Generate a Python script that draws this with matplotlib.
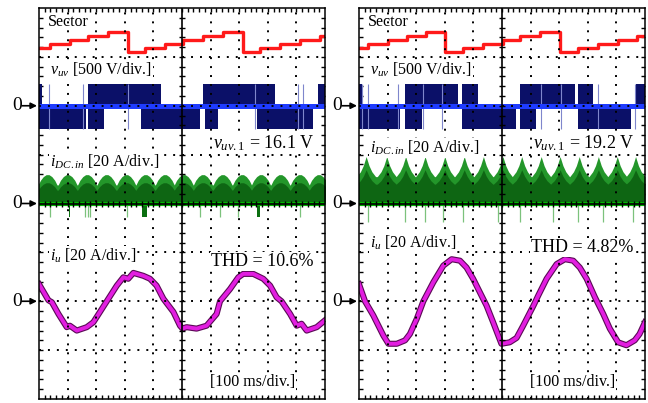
import matplotlib
matplotlib.use("Agg")
import matplotlib.pyplot as plt
import numpy as np

plt.rcParams["font.family"] = ["Liberation Serif", "DejaVu Serif"]
plt.rcParams["mathtext.fontset"] = "custom"
plt.rcParams["mathtext.rm"] = "Liberation Serif"
plt.rcParams["mathtext.it"] = "Liberation Serif:italic"

# ---- data read off the scope captures (time in ms, 100 ms/div) ----
# sector number (initial value, then value after each switch)
sector_switch_L = [38, 108, 172, 242, 310, 371, 441, 502, 575, 645, 712, 773, 843, 913, 983]
sector_L = [2, 3, 4, 5, 6, 1, 2, 3, 4, 5, 6, 1, 2, 3, 4, 5]
sector_switch_R = [33, 103, 167, 234, 301, 365, 435, 505, 563, 633, 703, 767, 837, 907, 971]
sector_R = [2, 3, 4, 5, 6, 1, 2, 3, 4, 5, 6, 1, 2, 3, 4, 5]

# v_uv PWM blocks (start ms, end ms), level in V
vuv_high, vuv_low = 225, -235
vuv_up_L = [(0, 10), (171, 427), (573, 825), (976, 1000)]
vuv_dn_L = [(0, 164), (171, 227), (357, 563), (580, 626), (762, 958)]
vuv_up_R = [(0, 10), (161, 346), (360, 416), (563, 755), (766, 818), (969, 1000)]
vuv_dn_R = [(0, 143), (161, 220), (360, 549), (563, 619), (766, 951)]
vuv_spike_L = [35, 154, 311, 755, 906, 923]
vuv_spike_R = [10, 31, 136, 224, 290, 636, 706, 836, 965]

# i_DC.in ripple humps: peak times (ms) and one hump profile (ms offset, A)
idc_peak_L = [30, 100, 168, 236, 305, 372, 440, 506, 573, 642, 710, 776, 844, 912, 978]
idc_dt_L = [-33, -25, -15, -5, 5, 15, 25, 33]
idc_amp_L = [7.6, 9.5, 11.0, 11.8, 11.8, 11.0, 9.5, 7.6]
idc_peak_R = [25, 97, 163, 231, 300, 368, 435, 503, 569, 637, 703, 770, 837, 903, 967]
idc_dt_R = [-33, -20, -10, 0, 10, 20, 33]
idc_amp_R = [11.0, 13.0, 15.5, 19.2, 15.5, 13.0, 11.0]
idc_neg_L = [38, 161, 170, 178, 307, 563, 633, 697, 913]
idc_negdark_L = [(106, 110), (359, 376), (761, 773)]
idc_neg_R = [31, 161, 231, 294, 364, 486, 563, 679, 767, 854, 959]
idc_depth_L, idc_depth_R = -5.5, -7.5

# phase current i_u (A)
iu_t_L = [0, 33, 45, 68, 97, 108, 132, 167, 190, 213, 237, 272, 295, 312, 330, 365, 388,
          411, 435, 470, 493, 502, 516, 551, 586, 621, 633, 668, 697, 714, 749, 784, 808,
          831, 848, 878, 901, 918, 936, 971, 1000]
iu_L = [7.0, 0.4, -0.4, -5.2, -10.6, -10.0, -12.0, -10.6, -8.6, -4.4, 0.0, 6.4, 9.8, 9.2,
        11.6, 10.4, 9.2, 6.4, 1.0, -4.4, -10.0, -11.2, -10.6, -11.2, -10.0, -5.2, 0.0, 5.0,
        9.8, 11.2, 11.2, 9.2, 6.4, 1.6, 0.0, -5.2, -10.0, -9.2, -12.0, -10.6, -7.8]
iu_t_R = [0, 21, 50, 85, 103, 132, 161, 178, 202, 225, 260, 295, 324, 353, 376, 399, 428,
          446, 469, 498, 527, 551, 574, 610, 627, 656, 691, 720, 749, 772, 796, 825, 854,
          877, 906, 935, 964, 981, 1000]
iu_R = [7.0, 0.0, -5.8, -14.0, -17.4, -17.4, -16.0, -13.4, -7.2, 0.0, 7.8, 14.6, 17.2,
        16.6, 13.8, 9.2, 2.4, -1.8, -8.6, -17.4, -16.8, -15.0, -10.0, -1.8, 2.4, 9.2, 15.2,
        17.2, 16.6, 13.8, 9.2, 1.6, -5.2, -11.2, -16.8, -18.0, -16.0, -13.4, -8.6]

vuv1 = ["16.1", "19.2"]
thd = ["10.6%", "4.82%"]

# screen set-up: divisions, zero levels, scales
MS_DIV, V_DIV, A_DIV = 100.0, 500.0, 20.0
Y_VUV, Y_IDC, Y_IU = 6.0, 4.0, 2.0
SEC_Y0, SEC_STEP = 7.09, 0.082


def draw_panel(ax, sw, sec, up, dn, vspk, pk, dt, amp, neg, negdark, depth,
               it, iu, v1, th, lab_dy):
    # sector staircase
    t = np.concatenate([[0], np.array(sw) / MS_DIV, [10]])
    s = np.array(sec + [sec[-1]], dtype=float)
    ax.step(t, SEC_Y0 + (s - 1) * SEC_STEP, where="post", color="#ff1a1a", lw=2.4,
            zorder=3)

    # v_uv
    for a, b in up:
        ax.bar(a / MS_DIV, vuv_high / V_DIV, width=(b - a) / MS_DIV, bottom=Y_VUV,
               align="edge", color="#0b1068", lw=0, zorder=2)
    for a, b in dn:
        ax.bar(a / MS_DIV, vuv_low / V_DIV, width=(b - a) / MS_DIV, bottom=Y_VUV,
               align="edge", color="#0b1068", lw=0, zorder=2)
    ax.vlines(np.array(vspk) / MS_DIV, Y_VUV + vuv_low / V_DIV, Y_VUV + vuv_high / V_DIV,
              color="#7f86cc", lw=0.8, zorder=2)
    ax.axhline(Y_VUV, color="#1f3cff", lw=3.6, zorder=3)

    # i_DC.in
    xs, ys = [0.0], [0.0]
    for p in pk:
        for d, a in zip(dt, amp):
            xs.append((p + d) / MS_DIV)
            ys.append(a)
    xs.append(10.0)
    ys.append(0.0)
    xs, ys = np.array(xs), np.array(ys)
    ax.fill_between(xs, Y_IDC, Y_IDC + ys / A_DIV, color="#23962a", lw=0, zorder=2)
    ax.fill_between(xs, Y_IDC, Y_IDC + 0.72 * ys / A_DIV, color="#0b5e10", lw=0,
                    alpha=0.85, zorder=2)
    ax.vlines(np.array(neg) / MS_DIV, Y_IDC + depth / A_DIV, Y_IDC, color="#7cc27c",
              lw=0.9, zorder=2)
    for a, b in negdark:
        ax.bar(a / MS_DIV, depth / A_DIV, width=(b - a) / MS_DIV, bottom=Y_IDC,
               align="edge", color="#0b6e10", lw=0, zorder=2)
    ax.axhline(Y_IDC, color="#00b400", lw=3.0, zorder=3)

    # i_u
    x = np.array(it) / MS_DIV
    y = Y_IU + np.array(iu) / A_DIV
    ax.plot(x, y, color="#5a0a55", lw=4.4, zorder=3, solid_joinstyle="round")
    ax.plot(x, y, color="#e21ee0", lw=2.8, zorder=3, solid_joinstyle="round")

    # scope graticule
    for gx in range(1, 10):
        if gx != 5:
            ax.axvline(gx, color="k", lw=1.4, ls=(0, (1, 3.6)), zorder=4)
    for gy in range(1, 8):
        if gy != 4:
            ax.axhline(gy, color="k", lw=1.4, ls=(0, (1, 3.6)), zorder=4)
    ax.axvline(5, color="k", lw=1.2, zorder=4)
    ax.axhline(4, color="k", lw=1.2, zorder=4)
    mx = np.arange(0.2, 10, 0.2)
    my = np.arange(0.2, 8, 0.2)
    ax.plot(mx, np.full_like(mx, 4.0), ls="none", marker="|", ms=5, mew=1.0, color="k",
            zorder=4)
    ax.plot(np.full_like(my, 5.0), my, ls="none", marker="_", ms=5, mew=1.0, color="k",
            zorder=4)

    ax.set_xlim(0, 10)
    ax.set_ylim(0, 8)
    ax.set_xticks([])
    ax.set_yticks([])
    ax.set_xticks(mx, minor=True)
    ax.set_yticks(my, minor=True)
    ax.tick_params(which="minor", direction="in", length=3, width=1.0, top=True,
                   right=True, labelbottom=False, labelleft=False)
    for sp in ax.spines.values():
        sp.set_linewidth(1.1)
        sp.set_zorder(5)

    # labels
    box = dict(fc="white", ec="none", pad=0.6)
    ax.text(0.31, 7.71, "Sector", fontsize=11.5, va="center", zorder=6)
    ax.text(0.38, 6.73, r"$v_{uv}$ [500 V/div.]", fontsize=11.5, va="center", bbox=box,
            zorder=6)
    ax.text(9.62, 5.24, r"$v_{uv.\mathrm{1}}$ = " + v1 + " V", fontsize=13, ha="right",
            va="center", bbox=box, zorder=6)
    ax.text(0.38, 4.86 + lab_dy, r"$i_{DC.in}$ [20 A/div.]", fontsize=11.5,
            va="center", bbox=box, zorder=6)
    ax.text(0.38, 2.92 + lab_dy, r"$i_u$ [20 A/div.]", fontsize=11.5, va="center",
            bbox=box, zorder=6)
    ax.text(9.6, 2.82 + lab_dy, "THD = " + th, fontsize=13, ha="right", va="center",
            bbox=box, zorder=6)
    ax.text(7.48, 0.35, "[100 ms/div.]", fontsize=11.5, ha="center", va="center",
            bbox=box, zorder=6)

    for y0 in (Y_VUV, Y_IDC, Y_IU):
        ax.annotate("", xy=(-0.07, y0), xytext=(-15, 0), textcoords="offset pixels",
                    xycoords="data", annotation_clip=False,
                    arrowprops=dict(arrowstyle="-|>", color="k", lw=1.2,
                                    mutation_scale=9, shrinkA=0, shrinkB=0))
        ax.annotate("0", xy=(0, y0), xytext=(-22, 0), textcoords="offset pixels",
                    fontsize=14, ha="center", va="center", annotation_clip=False)


fig = plt.figure(figsize=(6.48, 4.03), dpi=100)
axL = fig.add_axes([39 / 648, 4 / 403, 286 / 648, 391 / 403])
axR = fig.add_axes([359 / 648, 4 / 403, 286 / 648, 391 / 403])

draw_panel(axL, sector_switch_L, sector_L, vuv_up_L, vuv_dn_L, vuv_spike_L,
           idc_peak_L, idc_dt_L, idc_amp_L, idc_neg_L, idc_negdark_L, idc_depth_L,
           iu_t_L, iu_L, vuv1[0], thd[0], 0.0)
draw_panel(axR, sector_switch_R, sector_R, vuv_up_R, vuv_dn_R, vuv_spike_R,
           idc_peak_R, idc_dt_R, idc_amp_R, idc_neg_R, [], idc_depth_R,
           iu_t_R, iu_R, vuv1[1], thd[1], 0.28)

fig.savefig("out.png", dpi=100)
